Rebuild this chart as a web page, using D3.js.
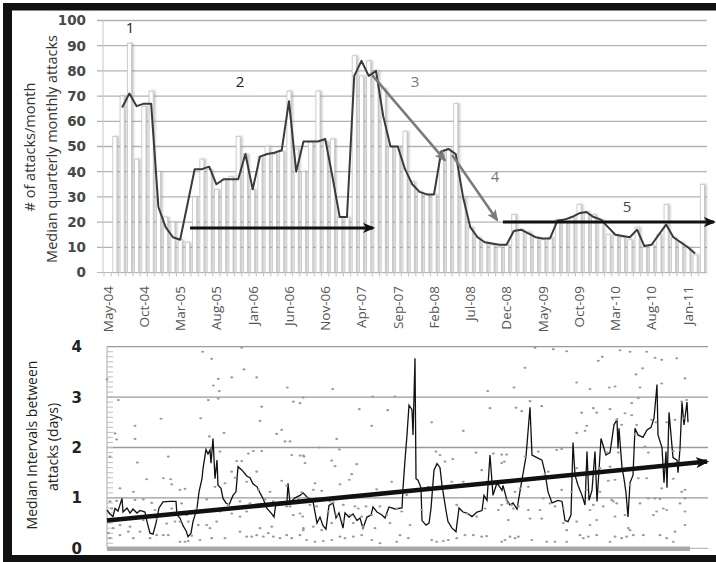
<!DOCTYPE html>
<html><head><meta charset="utf-8">
<script src="https://cdn.jsdelivr.net/npm/d3@7"></script>
<style>body{margin:0;background:#fff}svg{display:block}</style>
</head><body>
<svg id="c" width="716" height="562"></svg>
<script>
// ---------- DATA ----------
const months = ["May-04","Jun-04","Jul-04","Aug-04","Sep-04","Oct-04","Nov-04","Dec-04",
"Jan-05","Feb-05","Mar-05","Apr-05","May-05","Jun-05","Jul-05","Aug-05","Sep-05","Oct-05","Nov-05","Dec-05",
"Jan-06","Feb-06","Mar-06","Apr-06","May-06","Jun-06","Jul-06","Aug-06","Sep-06","Oct-06","Nov-06","Dec-06",
"Jan-07","Feb-07","Mar-07","Apr-07","May-07","Jun-07","Jul-07","Aug-07","Sep-07","Oct-07","Nov-07","Dec-07",
"Jan-08","Feb-08","Mar-08","Apr-08","May-08","Jun-08","Jul-08","Aug-08","Sep-08","Oct-08","Nov-08","Dec-08",
"Jan-09","Feb-09","Mar-09","Apr-09","May-09","Jun-09","Jul-09","Aug-09","Sep-09","Oct-09","Nov-09","Dec-09",
"Jan-10","Feb-10","Mar-10","Apr-10","May-10","Jun-10","Jul-10","Aug-10","Sep-10","Oct-10","Nov-10","Dec-10",
"Jan-11","Feb-11","Mar-11"];

const monthlyAttacks = [0,54,70,91,45,66,72,40,22,20,13,12,30,45,41,33,37,38,54,47,33,46,50,47,48,72,49,40,52,72,52,53,22,22,86,78,84,80,73,50,50,56,36,32,31,31,48,49,67,30,18,14,12,11,10,11,23,17,16,14,13,14,21,20,22,27,24,23,21,15,15,14,13,18,10,11,15,27,14,12,10,7,35];

const quarterlyMedian = [null,null,65.5,71,66,67,67,26,18,14,13,27,41,41,42,35,37,37,37,47,33,46,47,47.5,48.5,68,40,52,52,52,53,38,22,22,78,84,78,80,62,50,50,41,35,32,31,31,48,49,47,30,18,14,12,11.5,11,11,16.5,17,15.5,14,13.5,13.5,20.5,21,22,23.5,24,22,21,18,15,14.5,14,17,10.5,11,15,19,14,12,10,7.5,null];

const topYTicks = [0,10,20,30,40,50,60,70,80,90,100];
const labelEvery = 5;

// annotations: month index (fractional), value
const topLabels = [
  {text:"1", i:3.1, v:97.0, color:"#222"},
  {text:"2", i:18.25, v:75.6, color:"#222"},
  {text:"3", i:42.4, v:75.6, color:"#777"},
  {text:"4", i:53.4, v:37.9, color:"#777"},
  {text:"5", i:71.6, v:26.0, color:"#444"}
];
const topArrows = [
  {from:[11.36,17.7], to:[36.6,17.7], color:"#111", w:3},
  {from:[36.45,78.4], to:[46.5,44.6], color:"#7a7a7a", w:2.5},
  {from:[47.5,46.6], to:[53.7,20.8], color:"#7a7a7a", w:2.5},
  {from:[54.5,20.0], to:[83.6,20.0], color:"#111", w:3}
];

// bottom chart: sequence position (0..600) and median interval (days)
const intervalLine = [[0,0.76],[3,0.68],[6,0.63],[8,0.79],[11,0.74],[15,0.99],[16,0.72],[20,0.8],[23,0.7],[26,0.78],[30,0.7],[33,0.75],[38,0.72],[40,0.53],[43,0.3],[46,0.28],[49,0.5],[52,0.8],[56,0.92],[63,0.93],[69,0.93],[70,0.66],[73,0.6],[76,0.45],[79,0.35],[81,0.23],[84,0.3],[86,0.53],[90,0.79],[92,1.12],[95,1.38],[96,1.58],[99,1.96],[101,1.87],[103,1.95],[104,1.69],[106,2.18],[108,1.38],[110,1.75],[111,1.25],[114,1.19],[116,0.99],[119,0.9],[122,0.86],[126,1.05],[129,1.12],[131,1.62],[135,1.55],[140,1.43],[143,1.4],[146,1.28],[150,1.22],[153,1.1],[156,0.99],[160,0.79],[165,0.68],[167,0.62],[169,0.9],[175,0.92],[180,0.93],[181,1.29],[183,0.9],[188,1.0],[193,1.05],[196,1.1],[201,1.0],[206,0.93],[210,0.5],[213,0.62],[216,0.45],[219,0.38],[222,0.85],[226,0.9],[229,0.6],[232,0.7],[236,0.4],[238,0.7],[242,0.62],[246,0.68],[250,0.55],[253,0.6],[256,0.4],[260,0.62],[264,0.66],[266,0.82],[270,0.72],[275,0.66],[278,0.6],[282,0.82],[288,0.78],[295,0.8],[296,1.19],[298,1.75],[300,2.25],[302,2.84],[305,2.75],[306,2.25],[308,3.77],[309,1.38],[311,1.35],[314,1.2],[315,0.55],[319,0.46],[322,0.5],[324,0.79],[327,1.55],[330,1.68],[333,1.6],[335,1.25],[339,0.75],[341,0.53],[345,0.4],[349,0.33],[352,0.8],[356,0.72],[360,0.7],[365,0.63],[370,0.72],[375,0.75],[377,1.05],[380,0.95],[383,1.85],[386,1.05],[390,1.3],[395,1.15],[396,1.25],[400,0.95],[403,0.86],[406,0.9],[410,0.78],[414,1.25],[419,1.82],[423,2.8],[425,1.85],[430,1.8],[435,1.75],[438,1.5],[441,1.12],[445,0.9],[451,0.95],[455,0.93],[458,0.55],[461,0.53],[464,0.66],[466,2.1],[468,1.45],[471,1.25],[475,1.05],[478,0.86],[480,1.92],[482,0.95],[485,1.15],[488,1.92],[490,0.93],[494,2.18],[496,2.05],[499,1.85],[503,1.9],[507,2.45],[510,2.55],[511,1.98],[512,2.38],[515,1.6],[517,1.38],[519,1.1],[521,0.62],[523,1.3],[526,1.45],[528,2.38],[531,2.25],[536,2.2],[540,2.35],[544,2.4],[547,2.58],[550,3.25],[551,2.25],[555,2.0],[557,1.3],[559,1.92],[560,1.2],[562,2.7],[566,1.8],[570,1.75],[571,1.5],[573,1.98],[575,2.9],[577,2.45],[580,2.9],[581,2.5]];

const intervalDots = [[0,3.35],[95.7,3.90],[104.7,3.76],[134.7,3.98],[137,3.55],[124.7,3.39],[149.7,3.39],[111.3,3.36],[106.3,3.23],[112.3,3.12],[180.3,3.19],[101.3,2.94],[111.3,2.97],[154.7,2.81],[186.3,2.91],[193,2.88],[11.3,2.94],[54,2.57],[93.7,2.58],[153,2.53],[28,2.43],[8,2.28],[117,2.29],[169.7,2.27],[174.7,2.35],[178,2.12],[183,2.12],[102.3,2.22],[28,2.17],[9.7,2.16],[113,1.92],[141.3,1.88],[146.3,1.93],[154.7,1.93],[184.7,1.85],[193,1.84],[197,1.82],[61.3,1.82],[30.3,1.70],[3,1.82],[129.7,1.73],[134.7,1.73],[124.7,1.52],[128,1.40],[149.7,1.52],[39.7,1.37],[56.3,1.39],[63.7,1.37],[13,1.19],[26.3,1.12],[64.7,1.27],[73,1.16],[78,1.18],[174.7,1.34],[179.7,1.24],[163,1.12],[36.3,0.97],[28,0.96],[3,0.93],[9.7,0.94],[4.7,0.79],[44.7,0.90],[48,0.76],[74.7,0.89],[89.7,0.79],[99.7,0.97],[108,1.22],[118,1.29],[139.7,1.32],[121.3,0.86],[133,0.93],[143,0.89],[158,0.97],[151.3,1.16],[166.3,0.93],[191.3,0.97],[193,0.69],[186.3,0.66],[183,0.83],[124.7,0.69],[139.7,0.73],[109.7,0.53],[103,0.40],[91.3,0.46],[81.3,0.53],[73,0.53],[68,0.53],[59.7,0.49],[49.7,0.59],[36.3,0.56],[23,0.43],[13,0.46],[6.3,0.40],[1.3,0.30],[3,0.20],[13,0.26],[21.3,0.33],[26.3,0.20],[33,0.33],[43,0.20],[49.7,0.26],[56.3,0.26],[61.3,0.26],[73,0.13],[78,0.13],[81.3,0.145],[84.7,0.25],[93,0.165],[104.7,0.20],[118,0.20],[133,0.33],[139.7,0.23],[144.7,0.23],[149.7,0.26],[156.3,0.23],[161.3,0.30],[166.3,0.23],[173,0.20],[179.7,0.26],[184.7,0.20],[193,0.26],[196.3,0.36],[179.7,0.83],[164.7,0.43],[153,0.40],[133,0.63],[113,0.73],[99.7,0.46],[79.7,0.66],[64.7,0.79],
[225.7,3.16],[196.3,2.99],[265.7,3.01],[288,3.01],[252.3,2.76],[280.7,2.74],[264.7,2.43],[229.7,2.17],[212.3,2.0],[232.3,1.96],[324.7,2.50],[356.3,2.33],[380.7,3.12],[383,2.78],[196.3,1.84],[198,1.69],[224.7,1.74],[249.7,1.67],[228,1.63],[329,1.92],[333,1.85],[338,1.72],[345.7,1.77],[369,1.90],[374.7,1.55],[386.3,1.88],[394.7,1.86],[394.7,1.69],[244.7,1.47],[242.3,1.36],[208,1.29],[233,1.27],[206.3,1.16],[214.7,1.14],[269.7,1.17],[194.7,1.11],[284.7,1.32],[321.3,1.22],[344.7,1.32],[356.3,1.32],[379.7,1.32],[199.7,0.99],[223,0.93],[226.3,0.91],[236.3,0.86],[248,0.83],[251.3,0.79],[259,0.83],[273,0.83],[289.7,0.79],[299.7,1.06],[195.7,0.63],[203,0.86],[209.7,0.83],[221.3,0.73],[229.7,0.66],[243,0.66],[254.7,0.63],[264.7,0.66],[279.7,0.66],[294.7,0.73],[314.7,0.76],[349.7,0.86],[359.7,0.69],[369.7,0.63],[378,0.79],[391.3,0.76],[196.3,0.40],[206.3,0.43],[214.7,0.36],[224.7,0.50],[236.3,0.53],[246.3,0.50],[256.3,0.43],[268,0.40],[283,0.50],[293,0.26],[303,0.46],[199.7,0.165],[208,0.13],[216.3,0.145],[224.7,0.165],[233,0.23],[238,0.20],[246.3,0.23],[254.7,0.26],[264.7,0.165],[273,0.10],[289.7,0.13],[301.3,0.20],[324.7,0.165],[329.7,0.13],[336.3,0.145],[341.3,0.165],[349.7,0.20],[358,0.26],[366.3,0.26],[374.7,0.23],[379.7,0.24],
[428,3.98],[446.3,3.95],[459.7,3.91],[418,3.58],[491.3,3.72],[495.3,3.80],[513,3.93],[523,3.90],[539.7,3.90],[548,3.78],[554.7,3.74],[569.7,3.77],[529,3.45],[535.7,3.57],[578,3.37],[554.7,3.27],[469.7,3.29],[407,3.19],[483,3.16],[502.3,3.19],[508,3.21],[533,3.19],[524.7,2.88],[531.3,2.98],[423,2.92],[434.7,2.82],[409,2.79],[414.7,2.72],[474.7,2.69],[486.3,2.78],[489.7,2.69],[503,2.76],[518,2.68],[524.7,2.64],[574.7,2.91],[579.7,2.94],[469.7,2.29],[478,2.33],[479.7,2.43],[509.7,2.55],[514.7,2.45],[529.7,2.45],[528,2.26],[544.7,2.55],[549,2.50],[559.7,2.50],[568,2.55],[576.3,2.58],[449.7,1.95],[454.7,1.97],[499.7,1.90],[511.3,1.90],[538,2.02],[541.3,1.90],[566.3,1.93],[573,1.95],[397.3,1.72],[399.7,1.86],[418,1.82],[431.3,1.92],[441.3,1.52],[438,1.47],[469.7,1.59],[493,1.59],[503,1.62],[511.3,1.57],[501.3,1.34],[508,1.36],[531.3,1.39],[539.7,1.39],[566.3,1.38],[574.7,1.12],[578,0.99],[394.7,0.86],[399.7,0.96],[408,1.12],[413,1.19],[421.3,1.22],[436.3,0.99],[448,0.83],[454.7,1.16],[464.7,1.12],[479.7,1.16],[493,1.12],[506.3,0.93],[523,1.26],[533,0.89],[541.3,0.99],[548,0.99],[553,0.98],[554.7,1.19],[578,1.16],[400.7,0.89],[404.7,0.86],[406.3,0.79],[411.3,0.83],[421.3,0.76],[433,0.76],[443,0.89],[456.3,0.79],[483,0.76],[486.3,0.86],[496.3,0.83],[504.7,0.96],[509.7,0.89],[546.3,0.66],[549.7,0.73],[556.3,0.79],[559.7,0.76],[573,0.89],[578,0.73],[401.3,0.56],[423,0.59],[434.7,0.59],[456.3,0.50],[459.7,0.36],[469.7,0.53],[483,0.46],[489.7,0.56],[508,0.63],[518,0.66],[521.3,0.40],[523,0.36],[526.3,0.26],[536.3,0.26],[519.7,0.23],[514.7,0.20],[508,0.23],[503,0.13],[489.7,0.26],[481.3,0.23],[476.3,0.20],[473,0.26],[459.7,0.13],[448,0.13],[439.7,0.13],[424.7,0.165],[411.3,0.23],[408,0.20],[403,0.23],[398,0.165],[394.7,0.13],[553,0.26],[559.7,0.20],[566.3,0.13],[568,0.33],[578,0.46]];

const bottomYTicks = [0,1,2,3,4];
const trend = [[0,0.55],[600,1.72]];

// ---------- DRAW ----------
const svg = d3.select("#c");
const defs = svg.append("defs");
function marker(id, color, size) {
  defs.append("marker").attr("id", id).attr("viewBox","0 0 12 10")
    .attr("refX",10).attr("refY",5).attr("markerWidth",size*1.2).attr("markerHeight",size)
    .attr("markerUnits","userSpaceOnUse").attr("orient","auto")
    .append("path").attr("d","M0,0 L12,5 L0,10 L3,5 Z").attr("fill",color);
}
marker("arBlack","#111",10);
marker("arGray","#7a7a7a",10);
marker("arTrend","#111",11);
const flt = defs.append("filter").attr("id","sh").attr("x","-50%").attr("y","-5%").attr("width","200%").attr("height","110%");
flt.append("feDropShadow").attr("dx",1.6).attr("dy",0).attr("stdDeviation",1.3)
  .attr("flood-color","#888").attr("flood-opacity",0.55);

// --- top chart ---
const x = d3.scaleBand().domain(months).range([104,706]).padding(0);
const y = d3.scaleLinear().domain([0,100]).range([272.5,20.5]);
const xi = i => x(months[0]) + x.bandwidth()/2 + i*x.step();
const xL = 97, xR = 707;

const gTop = svg.append("g");
gTop.selectAll("line.grid").data(topYTicks.filter(d=>d>0)).join("line")
  .attr("x1",xL).attr("x2",xR).attr("y1",d=>y(d)).attr("y2",d=>y(d))
  .attr("stroke","#b3b3b3").attr("stroke-width",1.3);
gTop.append("line").attr("x1",x.range()[0]-1).attr("x2",x.range()[0]-1).attr("y1",y(0)).attr("y2",y(100))
  .attr("stroke","#c8c8c8");
gTop.append("g").attr("filter","url(#sh)").selectAll("rect").data(monthlyAttacks).join("rect")
  .attr("x",(d,i)=>x(months[i]) + x.bandwidth()*0.22)
  .attr("width",x.bandwidth()*0.56)
  .attr("y",d=>y(d)).attr("height",d=>y(0)-y(d))
  .attr("fill","#fff").attr("stroke","#c4c4c4").attr("stroke-width",0.8);
gTop.append("line").attr("x1",xL).attr("x2",xR).attr("y1",y(0)).attr("y2",y(0)).attr("stroke","#b8b8b8").attr("stroke-width",1.2);
gTop.selectAll("line.xt").data(months).join("line")
  .attr("x1",d=>x(d)).attr("x2",d=>x(d)).attr("y1",y(0)).attr("y2",y(0)+4)
  .attr("stroke","#c4c4c4");
gTop.append("path").datum(quarterlyMedian)
  .attr("d", d3.line().defined(d=>d!=null).x((d,i)=>xi(i)).y(d=>y(d)))
  .attr("fill","none").attr("stroke","#3a3a3a").attr("stroke-width",2).attr("stroke-linejoin","round");
gTop.selectAll("line.arr").data(topArrows).join("line")
  .attr("x1",d=>xi(d.from[0])).attr("y1",d=>y(d.from[1]))
  .attr("x2",d=>xi(d.to[0])).attr("y2",d=>y(d.to[1]))
  .attr("stroke",d=>d.color).attr("stroke-width",d=>d.w)
  .attr("marker-end",d=>d.color==="#111"?"url(#arBlack)":"url(#arGray)");
gTop.selectAll("text.ann").data(topLabels).join("text")
  .attr("x",d=>xi(d.i)).attr("y",d=>y(d.v)).attr("dy","0.36em")
  .attr("text-anchor","middle").attr("font-family","'Open Sans',sans-serif").attr("font-size",15)
  .attr("fill",d=>d.color).text(d=>d.text);
gTop.selectAll("text.yt").data(topYTicks).join("text")
  .attr("x",86).attr("y",d=>y(d)).attr("dy","0.36em").attr("text-anchor","end")
  .attr("font-family","'DejaVu Sans',sans-serif").attr("font-weight","bold").attr("font-size",13.5)
  .attr("fill","#484848").text(d=>d);
gTop.selectAll("text.xl").data(months.filter((d,i)=>i%labelEvery===0)).join("text")
  .attr("transform",d=>`translate(${x(d)+x.bandwidth()/2},286) rotate(-90)`)
  .attr("dy","0.36em").attr("text-anchor","end")
  .attr("font-family","'Open Sans',sans-serif").attr("font-size",13.5).attr("fill","#555").text(d=>d);
[["# of attacks/month",30,147],["Median quarterly monthly attacks",52,149]].forEach(([t,cx,cy])=>{
  svg.append("text").attr("transform",`translate(${cx},${cy}) rotate(-90)`).attr("dy","0.36em")
    .attr("text-anchor","middle").attr("font-family","'Open Sans',sans-serif").attr("font-size",14.5)
    .attr("fill","#333").text(t);
});

// --- bottom chart ---
const bx = d3.scaleLinear().domain([0,600]).range([107,707]);
const by = d3.scaleLinear().domain([0,4]).range([548.3,346.7]);
const gBot = svg.append("g");
gBot.selectAll("line.bg").data(bottomYTicks.filter(d=>d>0)).join("line")
  .attr("x1",bx(0)).attr("x2",708).attr("y1",d=>by(d)).attr("y2",d=>by(d))
  .attr("stroke","#9a9a9a").attr("stroke-width",1.3);
gBot.selectAll("line.minor").data(d3.range(1,40)).join("line")
  .attr("x1",bx(0)).attr("x2",bx(0)+6).attr("y1",d=>by(d/10)).attr("y2",d=>by(d/10))
  .attr("stroke","#bdbdbd");
gBot.append("line").attr("x1",bx(0)).attr("x2",bx(0)).attr("y1",by(0)).attr("y2",by(4)).attr("stroke","#aaa");
gBot.append("line").attr("x1",bx(0)).attr("x2",708).attr("y1",by(0)).attr("y2",by(0)).attr("stroke","#aaa");
gBot.append("line").attr("x1",bx(0)).attr("x2",bx(583)).attr("y1",by(0)+0.5).attr("y2",by(0)+0.5)
  .attr("stroke","#a8a8a8").attr("stroke-width",4.5);
gBot.append("path").datum(intervalLine)
  .attr("d", d3.line().x(d=>bx(d[0])).y(d=>by(d[1])))
  .attr("fill","none").attr("stroke","#111").attr("stroke-width",1.3).attr("stroke-linejoin","miter");
gBot.selectAll("ellipse").data(intervalDots).join("ellipse")
  .attr("cx",d=>bx(d[0])).attr("cy",d=>by(d[1])).attr("rx",1.5).attr("ry",1.1).attr("fill","#9a9a9a");
gBot.append("line").attr("x1",bx(trend[0][0])).attr("y1",by(trend[0][1]))
  .attr("x2",bx(trend[1][0])).attr("y2",by(trend[1][1]))
  .attr("stroke","#111").attr("stroke-width",4.5).attr("marker-end","url(#arTrend)");
gBot.selectAll("text.byt").data(bottomYTicks).join("text")
  .attr("x",82).attr("y",d=>by(d)).attr("dy","0.36em").attr("text-anchor","end")
  .attr("font-family","'DejaVu Sans',sans-serif").attr("font-weight","bold").attr("font-size",15)
  .attr("fill","#222").text(d=>d);
[["Median Intervals between",32,445],["attacks (days)",53,447]].forEach(([t,cx,cy])=>{
  svg.append("text").attr("transform",`translate(${cx},${cy}) rotate(-90)`).attr("dy","0.36em")
    .attr("text-anchor","middle").attr("font-family","'Open Sans',sans-serif").attr("font-size",14)
    .attr("fill","#222").text(t);
});

// frame
svg.append("rect").attr("x",3).attr("y",3).attr("width",713).attr("height",7.5).attr("fill","#111");
svg.append("rect").attr("x",3).attr("y",3).attr("width",9).attr("height",559).attr("fill","#111");
svg.append("rect").attr("x",3).attr("y",555).attr("width",713).attr("height",7).attr("fill","#111");
</script>
</body></html>
